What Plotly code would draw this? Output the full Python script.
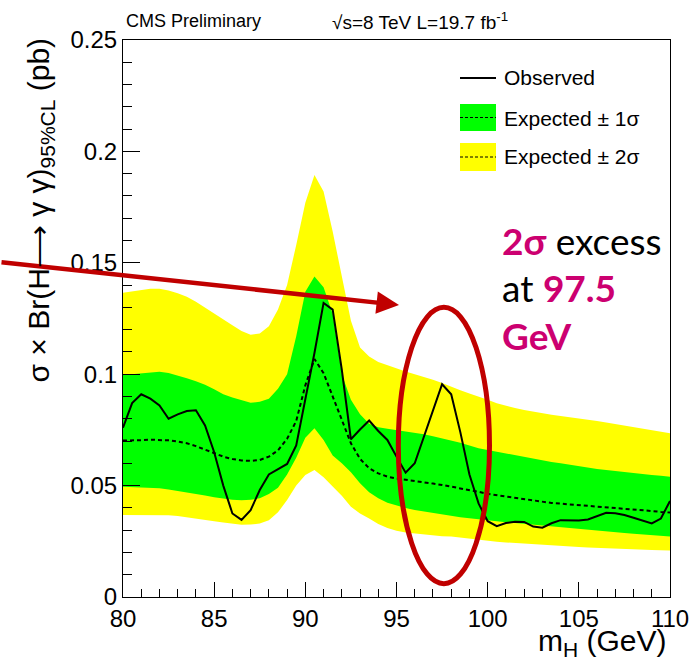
import plotly.graph_objects as go

# Higgs mass hypotheses (GeV)
mass = [80.0, 80.5, 81.0, 81.5, 82.0, 82.5, 83.0, 83.5, 84.0, 84.5,
        85.0, 85.5, 86.0, 86.5, 87.0, 87.5, 88.0, 88.5, 89.0, 89.5,
        90.0, 90.5, 91.0, 91.5, 92.0, 92.5, 93.0, 93.5, 94.0, 94.5,
        95.0, 95.5, 96.0, 96.5, 97.0, 97.5, 98.0, 98.5, 99.0, 99.5,
        100.0, 100.5, 101.0, 101.5, 102.0, 102.5, 103.0, 103.5, 104.0, 104.5,
        105.0, 105.5, 106.0, 106.5, 107.0, 107.5, 108.0, 108.5, 109.0, 109.5,
        110.0]

# 95% CL upper limits on sigma x BR(H -> gamma gamma) in pb
observed = [0.076, 0.087, 0.091, 0.089, 0.086, 0.080, 0.082, 0.0835, 0.0838, 0.077,
            0.065, 0.050, 0.0375, 0.0346, 0.039, 0.048, 0.055, 0.0575, 0.0597, 0.068,
            0.088, 0.1095, 0.132, 0.129, 0.102, 0.0708, 0.0752, 0.0792, 0.0745, 0.0705,
            0.063, 0.0558, 0.060, 0.072, 0.084, 0.0955, 0.091, 0.074, 0.055, 0.042,
            0.034, 0.0318, 0.0332, 0.0338, 0.0337, 0.0316, 0.0311, 0.0331, 0.0345, 0.0344,
            0.0343, 0.0348, 0.0362, 0.0378, 0.0376, 0.0368, 0.0356, 0.0343, 0.033, 0.0352,
            0.0431]

expected = [0.0702, 0.0702, 0.0704, 0.0706, 0.0706, 0.0703, 0.0698, 0.069, 0.0677, 0.0662,
            0.0645, 0.063, 0.0619, 0.0613, 0.0611, 0.0615, 0.063, 0.0658, 0.071, 0.079,
            0.095, 0.1068, 0.1005, 0.090, 0.079, 0.069, 0.062, 0.0578, 0.0555, 0.054,
            0.0532, 0.0527, 0.0521, 0.0515, 0.0509, 0.0503, 0.0496, 0.0489, 0.0481, 0.0472,
            0.0463, 0.0457, 0.045, 0.0443, 0.0437, 0.0431, 0.0426, 0.0422, 0.0419, 0.0416,
            0.0413, 0.041, 0.0406, 0.0403, 0.04, 0.0396, 0.0392, 0.0389, 0.0386, 0.0382,
            0.0379]

exp_1s_up = [0.0996, 0.1, 0.1005, 0.101, 0.1011, 0.1005, 0.0995, 0.0982, 0.0968, 0.0953,
             0.0932, 0.091, 0.0895, 0.0882, 0.0872, 0.0876, 0.089, 0.0935, 0.1, 0.117,
             0.137, 0.1438, 0.139, 0.127, 0.1, 0.0885, 0.082, 0.0778, 0.0762, 0.0755,
             0.0749, 0.0744, 0.0739, 0.0731, 0.0722, 0.0713, 0.0703, 0.0692, 0.068, 0.0668,
             0.066, 0.0652, 0.0644, 0.0636, 0.0628, 0.062, 0.0613, 0.0606, 0.06, 0.0593,
             0.0586, 0.058, 0.0575, 0.057, 0.0565, 0.056, 0.0556, 0.0552, 0.0548, 0.0544,
             0.054]

exp_1s_dn = [0.0495, 0.0494, 0.0492, 0.049, 0.0488, 0.0483, 0.0477, 0.047, 0.0463, 0.0456,
             0.0448, 0.0441, 0.0436, 0.0434, 0.0436, 0.0443, 0.0462, 0.049, 0.055, 0.0625,
             0.0715, 0.0757, 0.0705, 0.0635, 0.06, 0.056, 0.051, 0.047, 0.0443, 0.0423,
             0.041, 0.0399, 0.039, 0.0383, 0.0376, 0.037, 0.0364, 0.0358, 0.0353, 0.0348,
             0.0344, 0.034, 0.0336, 0.0332, 0.0328, 0.0324, 0.032, 0.0316, 0.0313, 0.031,
             0.0306, 0.0302, 0.0298, 0.0295, 0.0291, 0.0287, 0.0284, 0.0281, 0.0277, 0.0274,
             0.0271]

exp_2s_up = [0.1366, 0.1372, 0.1378, 0.1384, 0.1383, 0.1376, 0.1363, 0.1348, 0.1325, 0.1298,
             0.127, 0.1245, 0.122, 0.1194, 0.1177, 0.1183, 0.1215, 0.129, 0.14, 0.158,
             0.177, 0.1894, 0.182, 0.164, 0.144, 0.124, 0.112, 0.108, 0.1055, 0.104,
             0.1025, 0.1012, 0.1, 0.0988, 0.0975, 0.096, 0.0943, 0.0928, 0.0913, 0.09,
             0.0885, 0.087, 0.0858, 0.0848, 0.0839, 0.0831, 0.0824, 0.0818, 0.0812, 0.0807,
             0.0802, 0.0796, 0.079, 0.0783, 0.0776, 0.0768, 0.0761, 0.0754, 0.0747, 0.0741,
             0.0735]

exp_2s_dn = [0.0368, 0.0368, 0.0368, 0.0368, 0.0368, 0.0367, 0.0363, 0.0358, 0.0351, 0.0345,
             0.034, 0.0334, 0.0328, 0.0324, 0.0325, 0.033, 0.0345, 0.038, 0.0435, 0.05,
             0.0548, 0.057, 0.0538, 0.0498, 0.0455, 0.0405, 0.0375, 0.0352, 0.0328, 0.031,
             0.0297, 0.029, 0.0285, 0.028, 0.0277, 0.0273, 0.0271, 0.0266, 0.0261, 0.0256,
             0.0252, 0.0248, 0.0245, 0.0242, 0.0239, 0.0236, 0.0233, 0.0231, 0.0228, 0.0226,
             0.0224, 0.0222, 0.022, 0.0218, 0.0216, 0.0215, 0.0213, 0.0212, 0.0211, 0.021,
             0.0209]

# Region around the highlighted excess (GeV, pb)
excess_mass_range = [95.1, 100.1]
excess_limit_range = [0.006, 0.130]

GREEN = "#00FF00"
YELLOW = "#FFFF00"
RED = "#C00000"
PINK = "#CC0070"
FONT = "Liberation Sans, Arial, Helvetica, sans-serif"

W, H = 692, 666
ML, MR, MT, MB = 123, 22, 40, 69
PW, PH = W - ML - MR, H - MT - MB


def px(x):
    return (x - ML) / PW


def py(y):
    return (H - MB - y) / PH


fig = go.Figure()

fig.add_trace(go.Scatter(x=mass, y=exp_2s_dn, mode="lines", line=dict(width=0),
                         hoverinfo="skip", showlegend=False))
fig.add_trace(go.Scatter(x=mass, y=exp_2s_up, mode="lines", line=dict(width=0),
                         fill="tonexty", fillcolor=YELLOW, showlegend=False))
fig.add_trace(go.Scatter(x=mass, y=exp_1s_dn, mode="lines", line=dict(width=0),
                         hoverinfo="skip", showlegend=False))
fig.add_trace(go.Scatter(x=mass, y=exp_1s_up, mode="lines", line=dict(width=0),
                         fill="tonexty", fillcolor=GREEN, showlegend=False))
fig.add_trace(go.Scatter(x=mass, y=expected, mode="lines",
                         line=dict(color="black", width=2, dash="4px,3px"),
                         showlegend=False))
fig.add_trace(go.Scatter(x=mass, y=observed, mode="lines",
                         line=dict(color="black", width=2), showlegend=False))

shapes = []
annotations = []

# Legend drawn in the upper right of the frame
lx0, lx1 = 460, 496
shapes.append(dict(type="line", xref="paper", yref="paper",
                   x0=px(lx0), x1=px(lx1), y0=py(78), y1=py(78),
                   line=dict(color="black", width=2)))
for (y0, y1, col) in [(104, 131, GREEN), (143, 171, YELLOW)]:
    shapes.append(dict(type="rect", xref="paper", yref="paper",
                       x0=px(lx0), x1=px(lx1), y0=py(y1), y1=py(y0),
                       fillcolor=col, line=dict(width=0)))
    ym = (y0 + y1) / 2
    shapes.append(dict(type="line", xref="paper", yref="paper",
                       x0=px(lx0), x1=px(lx1), y0=py(ym), y1=py(ym),
                       line=dict(color="black", width=1, dash="3px,2px")))
for text, y in [("Observed", 78), ("Expected ± 1σ", 118), ("Expected ± 2σ", 157)]:
    annotations.append(dict(text=text, xref="paper", yref="paper",
                            x=px(502), y=py(y), xanchor="left", yanchor="middle",
                            showarrow=False, font=dict(family=FONT, size=21, color="black")))

# Highlight of the excess
shapes.append(dict(type="circle", xref="x", yref="y", layer="above",
                   x0=excess_mass_range[0], x1=excess_mass_range[1],
                   y0=excess_limit_range[0], y1=excess_limit_range[1],
                   line=dict(color=RED, width=5)))

annotations.append(dict(text="", xref="paper", yref="paper",
                        x=px(399), y=py(305), axref="pixel", ayref="pixel",
                        ax=-399, ay=-43, showarrow=True, arrowhead=2,
                        arrowsize=1.0, arrowwidth=4.5, arrowcolor=RED, standoff=0))

callout_font = dict(family="Lato, Open Sans, sans-serif", size=37, color="black")
for text, y in [(f"<b><span style='color:{PINK}'>2σ</span></b> excess", 240),
                (f"at <b><span style='color:{PINK}'>97.5</span></b>", 287),
                (f"<b><span style='color:{PINK}'>GeV</span></b>", 335)]:
    annotations.append(dict(text=text, xref="paper", yref="paper",
                            x=px(500), y=py(y), xanchor="left", yanchor="middle",
                            showarrow=False, font=callout_font))

# Header texts
annotations.append(dict(text="CMS Preliminary", xref="paper", yref="paper",
                        x=px(124), y=py(21), xanchor="left", yanchor="middle",
                        showarrow=False, font=dict(family=FONT, size=18, color="black")))
annotations.append(dict(text="√s=8 TeV L=19.7 fb<sup>-1</sup>", xref="paper", yref="paper",
                        x=px(330), y=py(21), xanchor="left", yanchor="middle",
                        showarrow=False, font=dict(family=FONT, size=19, color="black")))

# Axis titles
annotations.append(dict(text="σ × Br(H⟶ γ γ)<sub>95%CL</sub> (pb)", xref="paper", yref="paper",
                        x=px(40), y=py(36), xanchor="center", yanchor="top",
                        textangle=-90, showarrow=False,
                        font=dict(family=FONT, size=30, color="black")))
annotations.append(dict(text="m<sub>H</sub> (GeV)", xref="paper", yref="paper",
                        x=px(669), y=py(642), xanchor="right", yanchor="middle",
                        showarrow=False, font=dict(family=FONT, size=30, color="black")))

axis_common = dict(showgrid=False, zeroline=False, showline=True, mirror=True,
                   linecolor="black", linewidth=1, ticks="inside", tickcolor="black",
                   automargin=False,
                   tickfont=dict(family=FONT, size=24, color="black"))

fig.update_layout(
    width=W, height=H,
    margin=dict(l=ML, r=MR, t=MT, b=MB, pad=0, autoexpand=False),
    paper_bgcolor="white", plot_bgcolor="white",
    showlegend=False,
    shapes=shapes, annotations=annotations,
    xaxis=dict(range=[80, 110], dtick=5, tick0=80, ticklen=15,
               minor=dict(dtick=1, ticks="inside", ticklen=8, tickcolor="black"),
               **axis_common),
    yaxis=dict(range=[0, 0.25], dtick=0.05, tick0=0, ticklen=17,
               minor=dict(dtick=0.01, ticks="inside", ticklen=9, tickcolor="black"),
               ticklabelstandoff=0,
               **axis_common),
)

fig.write_html("out.html")
